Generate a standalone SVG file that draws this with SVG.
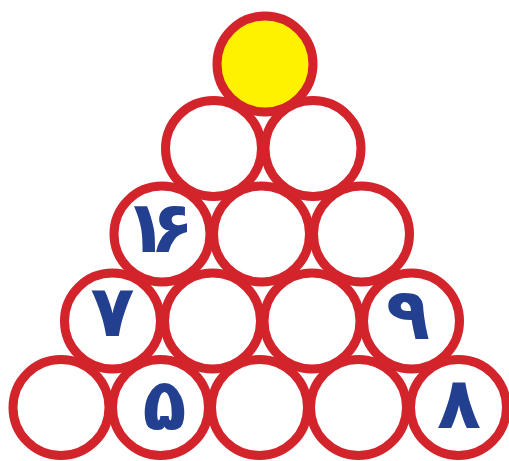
<svg xmlns="http://www.w3.org/2000/svg" width="509" height="461" viewBox="0 0 509 461">
<style>
.c{fill:#ffffff;stroke:#d3232b;stroke-width:9}
.y{fill:#fff200}
.t{font-family:"DejaVu Sans",sans-serif;font-weight:bold;font-size:72px;fill:#233f8f;text-anchor:middle}
</style>
<rect width="509" height="461" fill="#ffffff"/>
<g id="row5">
<g id="n5a"><circle class="c" cx="61" cy="407.5" r="48"/></g>
<g id="n5b"><circle class="c" cx="160.5" cy="407.5" r="48"/><text class="t" x="164.5" y="430">۵</text></g>
<g id="n5c"><circle class="c" cx="259.5" cy="407.5" r="48"/></g>
<g id="n5d"><circle class="c" cx="358.5" cy="407.5" r="48"/></g>
<g id="n5e"><circle class="c" cx="458.5" cy="407.5" r="48"/><text class="t" x="459" y="428">۸</text></g>
</g>
<g id="row4">
<g id="n4a"><circle class="c" cx="112.5" cy="321" r="48"/><text class="t" x="112.5" y="336">۷</text></g>
<g id="n4b"><circle class="c" cx="212.5" cy="321" r="48"/></g>
<g id="n4c"><circle class="c" cx="312" cy="321" r="48"/></g>
<g id="n4d"><circle class="c" cx="411.5" cy="321" r="48"/><text class="t" x="408" y="339">۹</text></g>
</g>
<g id="row3">
<g id="n3a"><circle class="c" cx="162" cy="234" r="48"/><text class="t" x="146 172" y="252" font-size="66">۱۶</text></g>
<g id="n3b"><circle class="c" cx="261.5" cy="234" r="48"/></g>
<g id="n3c"><circle class="c" cx="361.5" cy="234" r="48"/></g>
</g>
<g id="row2">
<g id="n2a"><circle class="c" cx="213.5" cy="148.5" r="48"/></g>
<g id="n2b"><circle class="c" cx="313" cy="148.5" r="48"/></g>
</g>
<g id="row1">
<g id="n1"><circle class="c y" cx="265" cy="64" r="48"/></g>
</g>
<g id="connectors"></g>
</svg>
